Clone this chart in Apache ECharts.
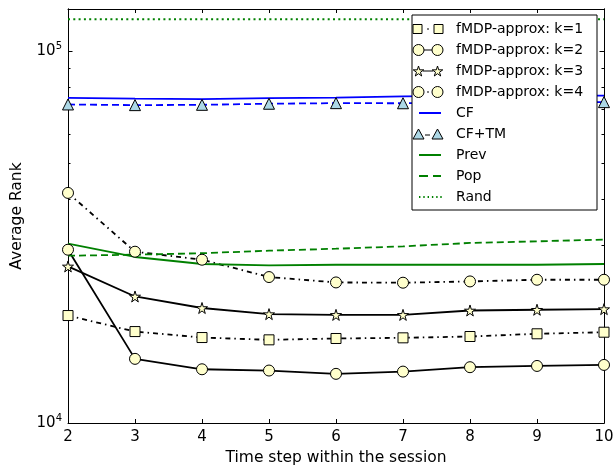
<!DOCTYPE html>
<html>
<head>
<meta charset="utf-8">
<script src="https://cdn.jsdelivr.net/npm/echarts@6/dist/echarts.min.js"></script>
<style>
html,body{margin:0;padding:0;background:#fff;}
#chart{width:614px;height:467px;}
</style>
</head>
<body>
<div id="chart"></div>
<script>
const steps = [2, 3, 4, 5, 6, 7, 8, 9, 10];
const k1 = [19460, 17620, 16980, 16740, 16880, 16950, 17090, 17380, 17550];
const k2 = [29260, 14880, 13950, 13840, 13560, 13750, 14130, 14240, 14330];
const k3 = [26380, 21900, 20390, 19630, 19540, 19540, 20080, 20170, 20250];
const k4 = [41600, 28900, 27500, 24700, 23890, 23850, 24040, 24290, 24290];
const cf = [75000, 74600, 74400, 74800, 75100, 75700, 75900, 76000, 76000];
const cftm = [71960, 71660, 71800, 72280, 72550, 72500, 72700, 72900, 73000];
const prev = [30380, 27970, 26780, 26550, 26660, 26660, 26660, 26660, 26780];
const pop = [28190, 28370, 28630, 29080, 29440, 29870, 30510, 30820, 31150];
const rand = [122000, 122000, 122000, 122000, 122000, 122000, 122000, 122000, 122000];
const majorTicks = [10000, 100000];
const minorTicks = [20000, 30000, 40000, 50000, 60000, 70000, 80000, 90000];

const FONT = 'DejaVu Sans';
const STAR = 'path://M50,0 L61,35 L98,35 L68,57 L79,91 L50,70 L21,91 L32,57 L2,35 L39,35 Z';
const YMIN = 10000, YMAX = 130000;
const pairs = arr => steps.map((s, i) => [s, arr[i]]);

const BOX = 'M0,0 L0,0 M33,11 L33,11 ';
const sq = x => `M${x},1 h9 v9 h-9 Z `;
const circ = x => `M${x},5.5 A5.5,5.5 0 1,0 ${x + 11},5.5 A5.5,5.5 0 1,0 ${x},5.5 Z `;
const starP = x => {
  const p = [[50,0],[61,35],[98,35],[68,57],[79,91],[50,70],[21,91],[32,57],[2,35],[39,35]];
  return 'M' + p.map(q => (x + q[0] * 0.11).toFixed(2) + ',' + (0.5 + q[1] * 0.11).toFixed(2)).join(' L') + ' Z ';
};
const tri = x => `M${x},10.5 L${x + 5.5},0.5 L${x + 11},10.5 Z `;
const ICONS = {
  k1: 'path://' + BOX + sq(0) + 'M14,5.5 L16,5.5 ' + sq(21),
  k2: 'path://' + BOX + circ(0) + 'M11,5.5 L19,5.5 ' + circ(19),
  k3: 'path://' + BOX + starP(0) + 'M10,5.5 L20,5.5 ' + starP(19),
  k4: 'path://' + BOX + circ(0) + 'M14,5.5 L16,5.5 ' + circ(19),
  cftm: 'path://' + BOX + tri(0) + 'M12,6.5 L17,6.5 ' + tri(19),
  solid: 'path://' + BOX + 'M6,5.5 L28,5.5',
  dash: 'path://' + BOX + 'M6,5.5 L15,5.5 M20,5.5 L28,5.5',
  dot: 'path://' + BOX + 'M6,5.5 L7.4,5.5 M10.3,5.5 L11.7,5.5 M14.6,5.5 L16,5.5 M18.9,5.5 L20.3,5.5 M23.2,5.5 L24.6,5.5 M27.3,5.5 L28.7,5.5'
};

function yAx(pos, ticks, len, labels) {
  return {
    type: 'log', logBase: 10, min: YMIN, max: YMAX, position: pos,
    axisLine: {show: true, lineStyle: {color: '#000', width: 1}},
    axisTick: {show: true, inside: true, length: len, customValues: ticks, lineStyle: {color: '#000', width: 1}},
    axisLabel: labels ? {
      show: true, customValues: majorTicks, margin: 6,
      formatter: v => '{b|10}{s|' + Math.round(Math.log10(v)) + '}',
      rich: {
        b: {fontSize: 15, fontFamily: FONT, color: '#000', lineHeight: 20},
        s: {fontSize: 10, fontFamily: FONT, color: '#000', verticalAlign: 'top', lineHeight: 12}
      }
    } : {show: false},
    splitLine: {show: false},
    minorTick: {show: false},
    name: labels ? 'Average Rank' : '',
    nameLocation: 'middle', nameGap: 43,
    nameTextStyle: {fontSize: 15.5, fontFamily: FONT, color: '#000'}
  };
}
function xAx(pos, labels) {
  return {
    type: 'value', min: 2, max: 10, interval: 1, position: pos,
    axisLine: {show: true, lineStyle: {color: '#000', width: 1}},
    axisTick: {show: true, inside: true, length: 4, lineStyle: {color: '#000'}},
    axisLabel: {show: labels, fontSize: 15, fontFamily: FONT, color: '#000', margin: 7},
    splitLine: {show: false},
    name: labels ? 'Time step within the session' : '',
    nameLocation: 'middle', nameGap: 27,
    nameTextStyle: {fontSize: 15.5, fontFamily: FONT, color: '#000'}
  };
}
function ser(name, arr, opts) {
  return Object.assign({
    name, type: 'line', data: pairs(arr), xAxisIndex: 0, yAxisIndex: 0,
    showSymbol: true, symbol: 'none', animation: false, clip: true,
    emphasis: {disabled: true}
  }, opts);
}
const mk = {color: '#ffffcc', borderColor: '#000', borderWidth: 1};
const blk = (type) => ({color: '#000', width: 1.8, type});
const DASHDOT = [5, 4, 1.5, 4];

const series = [
  ser('fMDP-approx: k=1', k1, {symbol: 'rect', symbolSize: 10, itemStyle: mk, lineStyle: blk(DASHDOT)}),
  ser('fMDP-approx: k=2', k2, {symbol: 'circle', symbolSize: 11, itemStyle: mk, lineStyle: blk('solid')}),
  ser('fMDP-approx: k=3', k3, {symbol: STAR, symbolSize: 11, itemStyle: mk, lineStyle: blk('solid')}),
  ser('fMDP-approx: k=4', k4, {symbol: 'circle', symbolSize: 11, itemStyle: mk, lineStyle: blk(DASHDOT)}),
  ser('CF', cf, {itemStyle: {color: '#0000ff'}, lineStyle: {color: '#0000ff', width: 1.8}}),
  ser('CF+TM', cftm, {symbol: 'triangle', symbolSize: 11, itemStyle: {color: '#add8e6', borderColor: '#000', borderWidth: 1}, lineStyle: {color: '#0000ff', width: 1.8, type: [7, 4]}}),
  ser('Prev', prev, {itemStyle: {color: '#008000'}, lineStyle: {color: '#008000', width: 1.8}}),
  ser('Pop', pop, {itemStyle: {color: '#008000'}, lineStyle: {color: '#008000', width: 1.8, type: [7, 4]}}),
  ser('Rand', rand, {itemStyle: {color: '#008000'}, lineStyle: {color: '#008000', width: 1.8, type: [2, 3.3]}})
];

const mkLeg = {color: '#ffffcc', borderColor: '#000', borderWidth: 1};
const lineLeg = c => ({color: 'rgba(0,0,0,0)', borderColor: c, borderWidth: 2});
const legendData = [
  {name: series[0].name, icon: ICONS.k1, itemStyle: mkLeg},
  {name: series[1].name, icon: ICONS.k2, itemStyle: mkLeg},
  {name: series[2].name, icon: ICONS.k3, itemStyle: mkLeg},
  {name: series[3].name, icon: ICONS.k4, itemStyle: mkLeg},
  {name: series[4].name, icon: ICONS.solid, itemStyle: lineLeg('#0000ff')},
  {name: series[5].name, icon: ICONS.cftm, itemStyle: {color: '#add8e6', borderColor: '#000', borderWidth: 1}},
  {name: series[6].name, icon: ICONS.solid, itemStyle: lineLeg('#008000')},
  {name: series[7].name, icon: ICONS.dash, itemStyle: lineLeg('#008000')},
  {name: series[8].name, icon: ICONS.dot, itemStyle: lineLeg('#008000')}
];

const chart = echarts.init(document.getElementById('chart'), null, {renderer: 'canvas'});
chart.setOption({
  backgroundColor: '#fff',
  animation: false,
  textStyle: {fontFamily: FONT},
  grid: {left: 68, right: 10, top: 9, bottom: 44, containLabel: false, outerBoundsMode: 'none'},
  xAxis: [xAx('bottom', true), xAx('top', false)],
  yAxis: [
    yAx('left', majorTicks, 4.5, true),
    yAx('left', minorTicks, 2.5, false),
    yAx('right', majorTicks, 4.5, false),
    yAx('right', minorTicks, 2.5, false)
  ],
  legend: {
    orient: 'vertical', left: 412, top: 15,
    padding: [7, 12, 6, 0], itemGap: 7, itemWidth: 43, itemHeight: 11,
    symbolKeepAspect: true,
    backgroundColor: '#fff', borderColor: '#000', borderWidth: 1, borderRadius: 0,
    textStyle: {fontSize: 14, fontFamily: FONT, color: '#000', lineHeight: 14, width: 129},
    selectedMode: false,
    data: legendData
  },
  series
});
</script>
</body>
</html>
